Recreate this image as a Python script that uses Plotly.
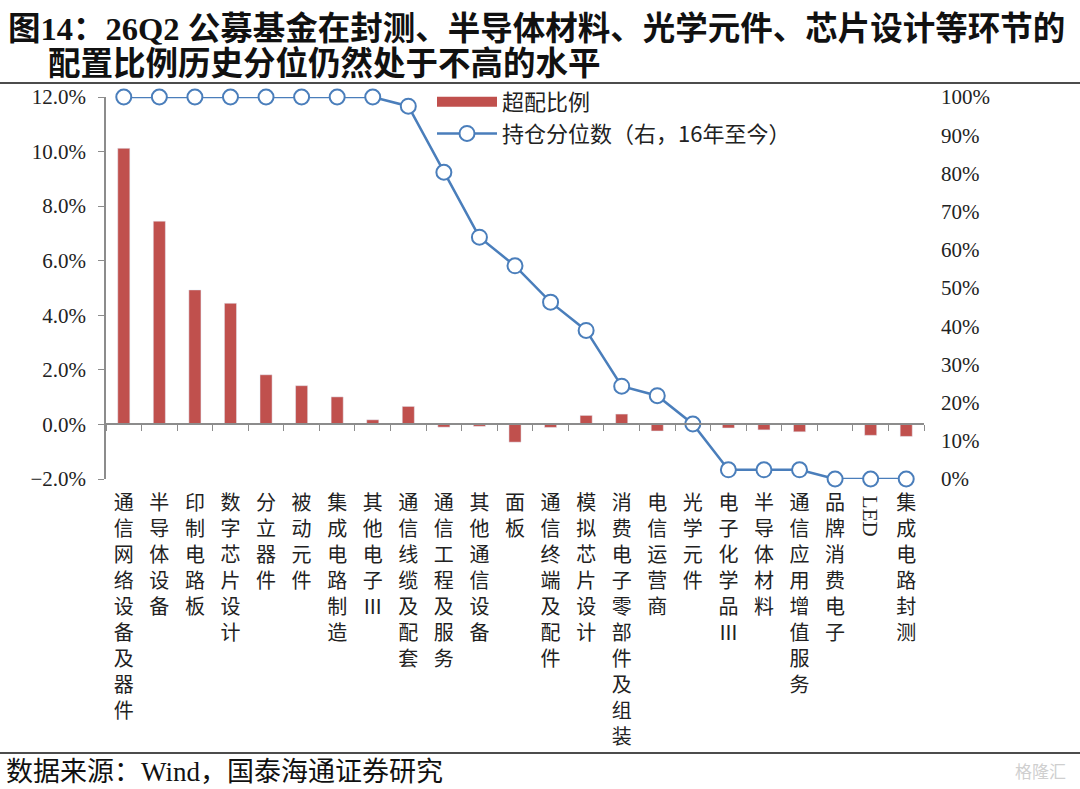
import plotly.graph_objects as go

# 行业类别
categories = ['通信网络设备及器件', '半导体设备', '印制电路板', '数字芯片设计', '分立器件',
              '被动元件', '集成电路制造', '其他电子Ⅲ', '通信线缆及配套', '通信工程及服务',
              '其他通信设备', '面板', '通信终端及配件', '模拟芯片设计', '消费电子零部件及组装',
              '电信运营商', '光学元件', '电子化学品Ⅲ', '半导体材料', '通信应用增值服务',
              '品牌消费电子', 'LED', '集成电路封测']

# 超配比例 (%)
overweight = [10.12, 7.45, 4.93, 4.44, 1.82, 1.42, 1.01, 0.17, 0.66, -0.10,
              -0.07, -0.65, -0.11, 0.33, 0.38, -0.24, 0.0, -0.13, -0.20, -0.27,
              0.0, -0.40, -0.44]

# 持仓分位数 (%, 右轴)
percentile = [100, 100, 100, 100, 100, 100, 100, 100, 97.6, 80.3,
              63.3, 55.8, 46.3, 38.9, 24.3, 21.8, 14.4, 2.4, 2.4, 2.4,
              0, 0, 0]

left_ticks = [-2, 0, 2, 4, 6, 8, 10, 12]
right_ticks = [0, 10, 20, 30, 40, 50, 60, 70, 80, 90, 100]

# 画布尺寸（像素）
W, H = 1080, 789
L, R, T, B = 106, 156, 97, 310
pw, ph = W - L - R, H - T - B


def px_x(x):
    return (x - L) / pw


def px_y(y):
    return (H - B - y) / ph


serif = 'Liberation Serif, Noto Sans CJK SC, serif'
cjk = 'Noto Sans CJK SC, Liberation Serif, sans-serif'
bar_color = '#C0504D'
line_color = '#4A7EBB'

# 竖排标签，LED 单独旋转
ticktext = ['' if c == 'LED' else '<br>'.join(c) for c in categories]

fig = go.Figure()

fig.add_trace(go.Bar(
    x=categories, y=overweight, name='超配比例', showlegend=False,
    marker_color=bar_color, width=0.34,
))

# 图例用：宽色块
fig.add_trace(go.Scatter(
    x=[None], y=[None], name='超配比例', mode='lines',
    line=dict(color=bar_color, width=12),
))

fig.add_trace(go.Scatter(
    x=categories, y=percentile, name='持仓分位数（右，16年至今）',
    yaxis='y2', mode='lines+markers',
    line=dict(color=line_color, width=2.5),
    marker=dict(symbol='circle', size=15, color='white',
                line=dict(color=line_color, width=2)),
    cliponaxis=False,
))

# 底部标签用的隐藏轨迹
fig.add_trace(go.Scatter(
    x=categories, y=[None] * len(categories), xaxis='x2',
    mode='lines', showlegend=False, hoverinfo='skip',
))

fig.update_layout(
    width=W, height=H,
    margin=dict(l=L, r=R, t=T, b=B),
    plot_bgcolor='white', paper_bgcolor='white',
    font=dict(family=serif, size=20, color='#222'),
    xaxis=dict(
        type='category', categoryorder='array', categoryarray=categories,
        range=[-0.5, len(categories) - 0.5],
        anchor='free', position=2 / 14,
        showline=True, linecolor='#8c8c8c', linewidth=1.5,
        ticks='outside', tickson='boundaries', ticklen=6, tickcolor='#8c8c8c',
        showticklabels=False, showgrid=False, zeroline=False,
    ),
    xaxis2=dict(
        type='category', overlaying='x', matches='x', anchor='y', side='bottom',
        tickmode='array', tickvals=categories, ticktext=ticktext,
        tickangle=0, ticks='', showline=False, showgrid=False,
        ticklabelstandoff=10,
        tickfont=dict(family=cjk, size=20, color='#222'),
    ),
    yaxis=dict(
        range=[-2, 12], tickmode='array', tickvals=left_ticks,
        ticktext=['%.1f%%' % v if v >= 0 else '\u2212%.1f%%' % -v for v in left_ticks],
        showline=True, linecolor='#8c8c8c', linewidth=1.5,
        ticks='outside', ticklen=6, tickcolor='#8c8c8c',
        showgrid=False, zeroline=False, ticklabelstandoff=8,
        tickfont=dict(family='Liberation Serif', size=21, color='#222'),
    ),
    yaxis2=dict(
        overlaying='y', side='right', range=[0, 100], tickmode='array',
        tickvals=right_ticks, ticktext=['%d%%' % v for v in right_ticks],
        showgrid=False, showline=False, zeroline=False,
        ticks='', ticklabelstandoff=16,
        tickfont=dict(family='Liberation Serif', size=21, color='#222'),
    ),
    legend=dict(
        x=px_x(432), y=px_y(81), xanchor='left', yanchor='top',
        bgcolor='rgba(0,0,0,0)', itemwidth=60,
        font=dict(family=cjk, size=22, color='#222'),
        tracegroupgap=0,
    ),
    showlegend=True,
)

# 标题
fig.add_annotation(
    text='<b>图14：26Q2 公募基金在封测、半导体材料、光学元件、芯片设计等环节的</b>',
    xref='paper', yref='paper', x=px_x(6), y=px_y(29),
    xanchor='left', yanchor='middle', showarrow=False,
    font=dict(family=serif, size=32.5, color='#111'),
)
fig.add_annotation(
    text='<b>配置比例历史分位仍然处于不高的水平</b>',
    xref='paper', yref='paper', x=px_x(46), y=px_y(64),
    xanchor='left', yanchor='middle', showarrow=False,
    font=dict(family=serif, size=32.5, color='#111'),
)

# LED 标签
fig.add_annotation(
    text='LED', textangle=90,
    xref='x', yref='paper', x='LED', y=px_y(494),
    xanchor='center', yanchor='top', showarrow=False,
    font=dict(family='Liberation Serif', size=21, color='#222'),
)

# 数据来源
fig.add_annotation(
    text='数据来源：Wind，国泰海通证券研究',
    xref='paper', yref='paper', x=px_x(4), y=px_y(772),
    xanchor='left', yanchor='middle', showarrow=False,
    font=dict(family=serif, size=27, color='#111'),
)
fig.add_annotation(
    text='格隆汇',
    xref='paper', yref='paper', x=px_x(1068), y=px_y(770),
    xanchor='right', yanchor='middle', showarrow=False,
    font=dict(family=cjk, size=17, color='#cfcfcf'),
)

# 分隔线
fig.add_shape(type='line', xref='paper', yref='paper',
              x0=px_x(0), x1=px_x(W), y0=px_y(83), y1=px_y(83),
              line=dict(color='#111', width=1.5))
fig.add_shape(type='line', xref='paper', yref='paper',
              x0=px_x(0), x1=px_x(W), y0=px_y(753), y1=px_y(753),
              line=dict(color='#111', width=1.5))

fig.write_html('out.html', config={'displayModeBar': False},
               post_script="document.body.style.margin='0';")
